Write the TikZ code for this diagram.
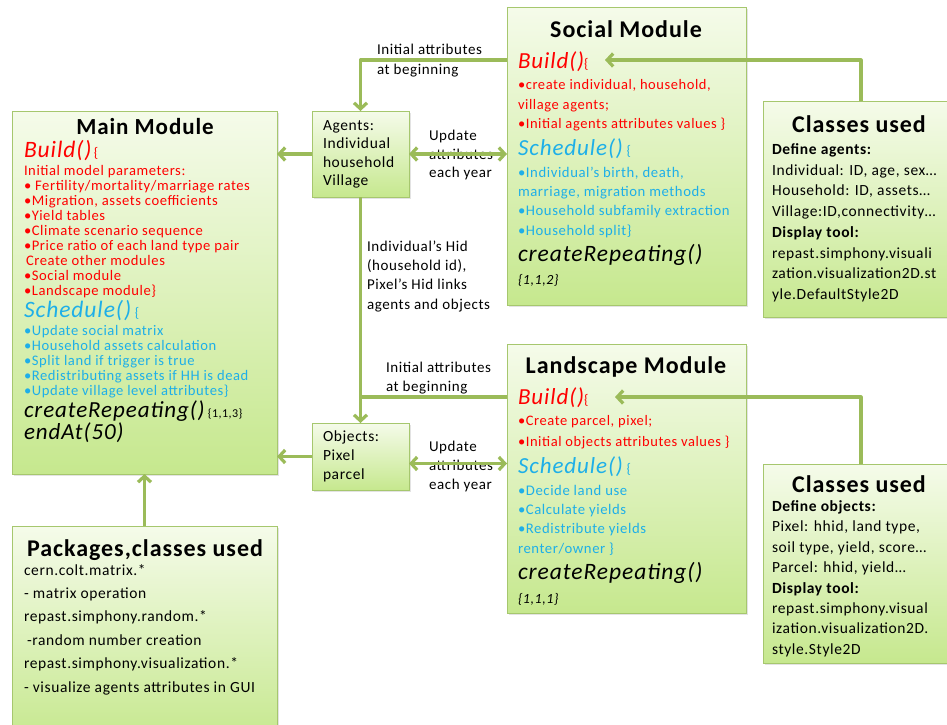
\documentclass[tikz,border=0pt]{standalone}
\usepackage{fontspec}
\setmainfont{Carlito}[LetterSpace=4]
\usetikzlibrary{arrows.meta,shadows}
\definecolor{lg}{HTML}{9BBB59}
\definecolor{bd}{HTML}{A6C76E}
\definecolor{ftop}{HTML}{F5FBEA}
\definecolor{fbot}{HTML}{C6E88E}
\definecolor{rd}{HTML}{FF0000}
\definecolor{bl}{HTML}{1EAFE8}
\newcommand\fsz[2]{\fontsize{#1}{#2}\selectfont}
\begin{document}
\begin{tikzpicture}[x=1pt,y=-1pt,
 box/.style={draw=bd, line width=1pt, top color=ftop, bottom color=fbot, anchor=north west, inner sep=0pt, outer sep=0pt,
   drop shadow={opacity=0.22, shadow xshift=2pt, shadow yshift=-2pt}},
 tx/.style={anchor=base west, inner sep=0pt, outer sep=0pt},
 tc/.style={anchor=base, inner sep=0pt, outer sep=0pt},
 ttl/.style={tc, font=\fsz{24}{24}\bfseries},
 arr/.style={draw=lg, line width=3.2pt, line join=round, -{Straight Barb[length=6pt,width=13pt]}},
 darr/.style={draw=lg, line width=3.2pt, {Straight Barb[length=6pt,width=13pt]}-{Straight Barb[length=6pt,width=13pt]}},
 ln/.style={draw=lg, line width=3.2pt, line join=round}
]
\fill[white] (0,0) rectangle (947,724);
\useasboundingbox (0,0) rectangle (947,724);

% boxes
\node[box, minimum width=265pt, minimum height=363pt] (main) at (12,111) {};
\node[box, minimum width=239pt, minimum height=298pt] (social) at (507,7) {};
\node[box, minimum width=239pt, minimum height=269pt] (land) at (507,344) {};
\node[box, minimum width=196pt, minimum height=216pt] (ctop) at (763,101) {};
\node[box, minimum width=196pt, minimum height=199pt] (cbot) at (763,464) {};
\node[box, minimum width=265pt, minimum height=215pt] (pack) at (12,526) {};
\node[box, minimum width=97pt, minimum height=86pt] (agents) at (312,111) {};
\node[box, minimum width=97pt, minimum height=67pt] (objects) at (312,423) {};

% Main module
\node[tc, font=\fsz{23}{23}\bfseries] (mt) at (145,134) {Main Module};
\node[tx, text=rd] (mb) at (24,157) {\fsz{23.5}{23}\itshape Build()\fsz{14}{14}\upshape\,\{};
\foreach \t [count=\i] in {Initial model parameters:, {• Fertility/mortality/marriage rates}, {•Migration, assets coefficients}, •Yield tables, •Climate scenario sequence, •Price ratio of each land type pair, {\hspace{2pt}Create other modules}, •Social module, •Landscape module\}}
  \node[tx, text=rd, font=\fsz{14.6}{15}] (mr\i) at (24,{175+(\i-1)*15.1}) {\t};
\node[tx, text=bl] (ms) at (24,317) {\fsz{23.5}{23}\itshape Schedule()\fsz{14}{14}\upshape\ \{};
\foreach \t [count=\i] in {•Update social matrix, •Household assets calculation, •Split land if trigger is true, •Redistributing assets if HH is dead, •Update village level attributes\}}
  \node[tx, text=bl, font=\fsz{14.6}{15}] (mq\i) at (24,{335+(\i-1)*15}) {\t};
\node[tx] (mc) at (24,417) {\fsz{23}{23}\itshape createRepeating()\fsz{12}{12}\upshape\ \{1,1,3\}};
\node[tx] (me) at (24,439) {\fsz{23}{23}\itshape endAt(50)};

% Social module
\node[ttl] (st) at (626,37) {Social Module};
\node[tx, text=rd] (sb) at (518,68) {\fsz{23}{23}\itshape Build()\fsz{14}{14}\upshape\{};
\foreach \t/\y [count=\i] in {{•create individual, household,}/89.5, {village agents;}/109, {•Initial agents attributes values \}}/128.5}
  \node[tx, text=rd, font=\fsz{14.5}{15}] (sr\i) at (518,\y) {\t};
\node[tx, text=bl] (ss) at (518,155) {\fsz{23}{23}\itshape Schedule()\fsz{14}{14}\upshape\ \{};
\foreach \t [count=\i] in {{•Individual’s birth, death,}, {marriage, migration methods}, •Household subfamily extraction, •Household split\}}
  \node[tx, text=bl, font=\fsz{14.7}{15}] (sq\i) at (518,{177.5+(\i-1)*19.2}) {\t};
\node[tx] (sc) at (518,261) {\fsz{23.5}{23}\itshape createRepeating()};
\node[tx] (sn) at (518,284.5) {\fsz{14}{14}\itshape \{1,1,2\}};

% Landscape module
\node[ttl] (lt) at (626,373) {Landscape Module};
\node[tx, text=rd] (lb) at (518,404) {\fsz{23}{23}\itshape Build()\fsz{14}{14}\upshape\{};
\node[tx, text=rd, font=\fsz{14.5}{15}] (lr1) at (518,425.5) {•Create parcel, pixel;};
\node[tx, text=rd, font=\fsz{14.5}{15}] (lr2) at (518,446.5) {•Initial objects attributes values \}};
\node[tx, text=bl] (ls) at (518,473) {\fsz{23}{23}\itshape Schedule()\fsz{14}{14}\upshape\ \{};
\foreach \t [count=\i] in {•Decide land use, •Calculate yields, •Redistribute yields, renter/owner \}}
  \node[tx, text=bl, font=\fsz{14.7}{15}] (lq\i) at (518,{495.5+(\i-1)*19.2}) {\t};
\node[tx] (lc) at (518,579) {\fsz{23.5}{23}\itshape createRepeating()};
\node[tx] (ln) at (518,603.5) {\fsz{14}{14}\itshape \{1,1,1\}};

% Classes used (agents)
\node[ttl] (ct) at (859,132) {Classes used};
\foreach \t [count=\i] in {{\bfseries Define agents:}, {Individual: ID, age, sex…}, {Household: ID, assets…}, {Village:ID,connectivity…}, {\bfseries Display tool:}, repast.simphony.visuali, zation.visualization2D.st, yle.DefaultStyle2D}
  \node[tx, font=\fsz{15.5}{16}] (ca\i) at (772,{154.5+(\i-1)*20.7}) {\t};

% Classes used (objects)
\node[ttl] (cu) at (859,492) {Classes used};
\foreach \t [count=\i] in {{\bfseries Define objects:}, {Pixel: hhid, land type,}, {soil type, yield, score…}, {Parcel: hhid, yield…}, {\bfseries Display tool:}, repast.simphony.visual, ization.visualization2D., style.Style2D}
  \node[tx, font=\fsz{15.5}{16}] (co\i) at (772,{511.5+(\i-1)*20.4}) {\t};

% Packages
\node[ttl] (pt) at (145,556) {Packages,classes used};
\foreach \t [count=\i] in {cern.colt.matrix.*, - matrix operation, repast.simphony.random.*, {\hspace{3pt}-random number creation}, repast.simphony.visualization.*, - visualize agents attributes in GUI}
  \node[tx, font=\fsz{15.5}{16}] (pk\i) at (24,{575+(\i-1)*23.4}) {\t};

% Agents / objects
\foreach \t [count=\i] in {Agents:, Individual, household, Village}
  \node[tx, font=\fsz{15.5}{16}] (ag\i) at (323,{130.5+(\i-1)*18.3}) {\t};
\foreach \t [count=\i] in {Objects:, Pixel, parcel}
  \node[tx, font=\fsz{15.5}{16}] (ob\i) at (323,{441.5+(\i-1)*19}) {\t};

% connector labels
\node[tx, font=\fsz{15}{16}] (la1) at (377,54.5) {Initial attributes};
\node[tx, font=\fsz{15}{16}] (la2) at (377,74.5) {at beginning};
\foreach \t [count=\i] in {Update, attributes, each year}
  \node[tx, font=\fsz{15}{16}] (ua\i) at (429,{140.5+(\i-1)*18.5}) {\t};
\foreach \t [count=\i] in {Individual’s Hid, {(household id),}, Pixel’s Hid links, agents and objects}
  \node[tx, font=\fsz{15}{16}] (hd\i) at (367,{251.5+(\i-1)*19.2}) {\t};
\node[tx, font=\fsz{15}{16}] (lb1) at (386,372.5) {Initial attributes};
\node[tx, font=\fsz{15}{16}] (lb2) at (386,391.5) {at beginning};
\foreach \t [count=\i] in {Update, attributes, each year}
  \node[tx, font=\fsz{15}{16}] (ub\i) at (429,{451.5+(\i-1)*19}) {\t};

% connectors
\coordinate (sbIn) at (507,60);
\coordinate (sbTip) at (605,60);
\coordinate (lbIn) at (507,397);
\coordinate (lbTip) at (615,397);
\draw[arr] (sbIn) -| (agents.north);
\draw[arr] (agents.south) -- (objects.north);
\draw[ln] (lbIn) -- (lbIn -| agents.south);
\draw[arr] (agents.west) -- (agents.west -| main.east);
\draw[darr] (agents.east) -- (agents.east -| social.west);
\draw[arr] (objects.west) -- (objects.west -| main.east);
\draw[darr] ([yshift=-7pt]objects.east) -- ([yshift=-7pt]objects.east -| land.west);
\draw[arr] (ctop.north) |- (sbTip);
\draw[arr] (cbot.north) |- (lbTip);
\draw[arr] (pack.north) -- (pack.north |- main.south);
\end{tikzpicture}
\end{document}
